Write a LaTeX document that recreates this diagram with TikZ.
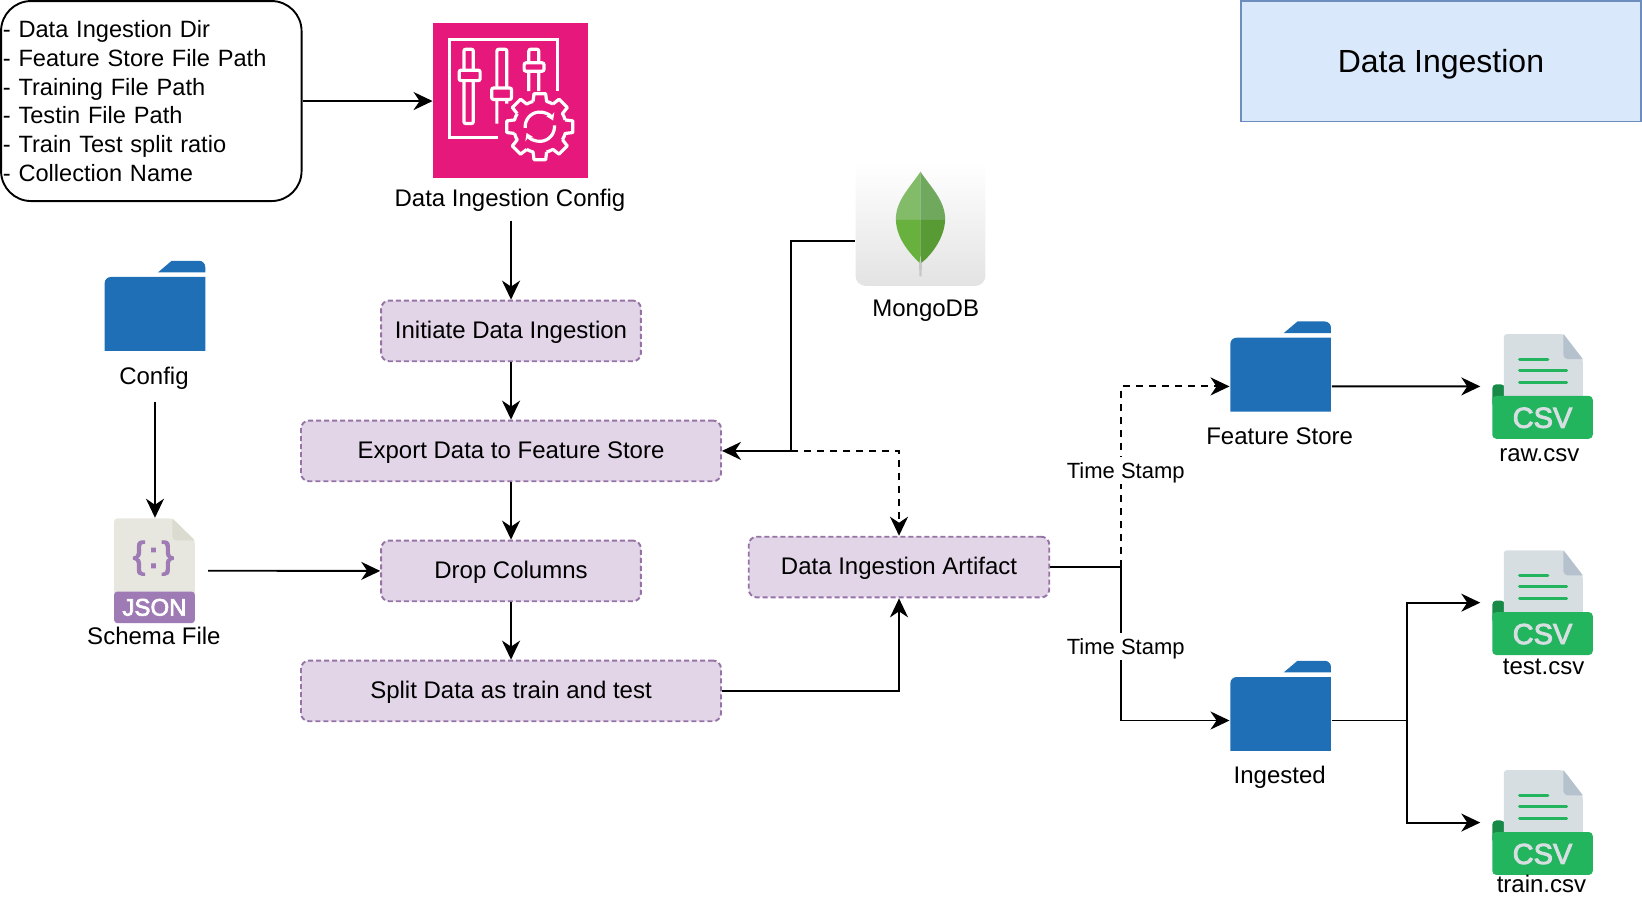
\documentclass[tikz,border=0pt]{standalone}
\usepackage{fontspec}
\setmainfont{Liberation Sans}
\newfontfamily\iconfont[FakeBold=3]{Liberation Sans}
\usetikzlibrary{arrows.meta}

\definecolor{boxfill}{HTML}{E1D5E7}
\definecolor{boxline}{HTML}{9673A6}
\definecolor{titlefill}{HTML}{DAE8FC}
\definecolor{titleline}{HTML}{6C8EBF}
\definecolor{folderblue}{HTML}{1F6FB7}
\definecolor{configpink}{HTML}{E7187B}
\definecolor{csvpaper}{HTML}{D7DEE2}
\definecolor{csvfold}{HTML}{B5C1CC}
\definecolor{csvgreen}{HTML}{22B55E}
\definecolor{csvdark}{HTML}{178A48}
\definecolor{jsonpaper}{HTML}{E8E7DF}
\definecolor{jsonfold}{HTML}{DBDBCF}
\definecolor{jsonpurple}{HTML}{9E7BB5}
\definecolor{leafa}{HTML}{82BC68}
\definecolor{leafb}{HTML}{70A85E}
\definecolor{leafc}{HTML}{69B13F}
\definecolor{leafd}{HTML}{589A34}

\tikzset{
  foldericon/.pic={
    \begin{scope}[shift={(-48,-43)}]
      \fill[folderblue] (51,11) -- (64,0) -- (90,0) to[out=0, in=90] (96,6) -- (96,11) -- cycle;
      \fill[folderblue] (0,86) -- (0,21) to[out=90, in=180] (6,15.5) -- (96,15.5) -- (96,86) -- cycle;
    \end{scope}
  },
  csvicon/.pic={
    \begin{scope}[shift={(-48,-50)}]
      \fill[csvdark, rounded corners=4] (0,70) -- (0,48) -- (12,48) -- (12,70) -- cycle;
      \fill[csvpaper, rounded corners=3] (11,65) -- (11,0) -- (68,0) -- (86.5,24) -- (86.5,65) -- cycle;
      \fill[csvfold] (68,0) -- (86.5,24) -- (72,24) to[out=180, in=-90] (68,20) -- cycle;
      \fill[csvgreen, rounded corners=4] (0,59) -- (96,59) -- (96,100) -- (0,100) -- cycle;
      \draw[csvgreen, line width=3pt, line cap=round] (26,24) -- (53,24);
      \draw[csvgreen, line width=3pt, line cap=round] (26,35) -- (71,35);
      \draw[csvgreen, line width=3pt, line cap=round] (26,46) -- (71,46);
      \node[text=csvpaper, font=\iconfont\fontsize{29}{30}\selectfont] (tag) at (48,80) {CSV};
    \end{scope}
  },
  jsonicon/.pic={
    \begin{scope}[shift={(-38.5,-50)}]
      \fill[jsonpaper, rounded corners=3] (0,75) -- (0,0) -- (55.5,0) -- (77,21) -- (77,75) -- cycle;
      \fill[jsonfold] (55.5,0) -- (77,21) -- (59,21) to[out=180, in=-90] (55.5,17) -- cycle;
      \fill[jsonpurple, rounded corners=3] (0,70) -- (77,70) -- (77,100) -- (0,100) -- cycle;
      \node[text=jsonpurple, font=\iconfont\fontsize{37}{39}\selectfont] (braces) at (37.5,38) {\{\kern3pt:\kern3pt\}};
      \node[text=white, font=\iconfont\fontsize{24}{26}\selectfont] (tag) at (38.5,85) {JSON};
    \end{scope}
  },
  tuneicon/.pic={
    \begin{scope}[shift={(-74.5,-74.5)}, white, line width=3.2pt]
      \fill[configpink] (0,0) rectangle (148,148);
      \draw (118.5,65) -- (118.5,16) -- (16,16) -- (16,109) -- (62,109);
      % the three sliders
      \draw[rounded corners=2pt] (29.5,25) rectangle (38.5,96);
      \draw[fill=configpink, rounded corners=2pt] (25,45) rectangle (45,55);
      \draw[rounded corners=2pt] (61,62) -- (61,25) -- (70.5,25) -- (70.5,62) (61,73) -- (61,96) (70.5,73) -- (70.5,77);
      \draw[fill=configpink, rounded corners=2pt] (56,62) rectangle (75,73);
      \draw[rounded corners=2pt] (91.5,38) -- (91.5,25) -- (101,25) -- (101,38) (91.5,46) -- (91.5,65) (101,46) -- (101,65);
      \draw[fill=configpink, rounded corners=2pt] (87,38) rectangle (106,46);
      % the gear
      \fill[configpink, shift={(102,99)}] (0,0) circle[radius=27];
      \foreach \a in {0,45,...,315}
        \draw[shift={(102,99)}, line join=round] (\a-15:25) -- (\a-10:32) -- (\a+10:32) -- (\a+15:25) arc[start angle=\a+15, end angle=\a+30, radius=25];
      \draw[shift={(102,99)}, -{Stealth[length=7pt, width=9pt]}] (175:14) arc[start angle=175, end angle=335, radius=14];
      \draw[shift={(102,99)}, -{Stealth[length=7pt, width=9pt]}] (355:14) arc[start angle=355, end angle=515, radius=14];
    \end{scope}
  },
  leaficon/.pic={
    \shade[top color=white, bottom color=black!11, rounded corners=10] (-62,-59) rectangle (62,59);
    \fill[black!22] (-1.5,33) -- (1.5,33) -- (1,50) -- (-1,50) -- cycle;
    \fill[leafa] (0,-50) .. controls (-10,-35) and (-24,-22) .. (-23.5,-4) -- (0,-4) -- cycle;
    \fill[leafb] (0,-50) .. controls (10,-35) and (24,-22) .. (23.5,-4) -- (0,-4) -- cycle;
    \fill[leafc] (-23.5,-4) .. controls (-23,15) and (-8,30) .. (-1,37) -- (0,30) -- (0,-4) -- cycle;
    \fill[leafd] (23.5,-4) .. controls (23,12) and (12,28) .. (1,37) -- (0,30) -- (0,-4) -- cycle;
  }
}

\begin{document}
\begin{tikzpicture}[x=1.0472pt, y=-1.0472pt, line width=1.9pt,
    >={Stealth[length=19pt, width=18pt, inset=6pt]},
    every node/.style={font=\fontsize{24}{28.8}\selectfont},
    main/.style = {draw=boxline, fill=boxfill, dashed, dash pattern=on 5pt off 3pt, rounded corners=8pt, minimum height=60.7pt, text height=19.5pt, text depth=4.5pt},
    lbl/.style = {text height=21pt, text depth=4pt},
    stamp/.style = {lbl, fill=white, inner xsep=0pt, inner ysep=1pt, font=\fontsize{22}{26}\selectfont},
    folderbox/.style = {minimum width=100.5pt, minimum height=90pt, inner sep=0pt},
    csvbox/.style = {minimum width=100.5pt, minimum height=104.7pt, inner sep=0pt, outer sep=12pt}]
  \useasboundingbox (0,0) rectangle (1568,863.25);

  % header and settings
  \node[draw=titleline, fill=titlefill, minimum width=400pt, minimum height=120.5pt, text height=27pt, text depth=5.5pt] (title) at (1376,58.5) {\fontsize{32}{38}\selectfont Data Ingestion};
  \node[draw, rounded corners=30pt, minimum width=300.5pt, minimum height=200pt, text width=297pt, inner xsep=1.5pt, align=left, font=\fontsize{23.6}{28.8}\selectfont] (settings) at (144.5,96.5)
    {- Data Ingestion Dir\\- Feature Store File Path\\- Training File Path\\- Testin File Path\\- Train Test split ratio\\- Collection Name};

  \node[minimum size=155pt, inner sep=0pt] (tune) at (488,96.5) {};
  \pic at (tune) {tuneicon};
  \node[lbl] (tunelbl) at (487,189) {Data Ingestion Config};

  % main column
  \node[main, minimum width=259.7pt] (initiate) at (488,316) {Initiate Data Ingestion};
  \node[main, minimum width=420pt, node distance=120pt] (export) [below of=initiate] {Export Data to Feature Store};
  \node[main, minimum width=259.7pt, node distance=120pt] (drop) [below of=export] {Drop Columns};
  \node[main, minimum width=420pt, node distance=120pt] (split) [below of=drop] {Split Data as train and test};
  \node[main, minimum width=300.5pt] (artifact) at (858.5,541.5) {Data Ingestion Artifact};

  % config folder and schema
  \node[folderbox] (configdir) at (148,292) {};
  \pic at (configdir) {foldericon};
  \node[lbl] (configlbl) at (147,359) {Config};
  \node[minimum width=80.6pt, minimum height=104pt, inner sep=0pt] (schema) at (148,545) {};
  \pic at ([xshift=-0.5pt]schema.center) {jsonicon};
  \node[lbl] (schemalbl) at (147,607) {Schema File};

  % source
  \node[minimum width=130pt, minimum height=123.5pt, inner sep=0pt] (mongo) at (879,214) {};
  \pic at (mongo) {leaficon};
  \node[lbl] (mongolbl) at (884,294) {MongoDB};
  \coordinate (mongojoin) at ([xshift=69.1pt]export.east);

  % output folders and files
  \node[folderbox] (featuredir) at (1223,350) {};
  \pic at (featuredir) {foldericon};
  \node[lbl] (featurelbl) at (1222,416) {Feature Store};
  \node[folderbox] (ingesteddir) at (1223,674) {};
  \pic at (ingesteddir) {foldericon};
  \node[lbl] (ingestedlbl) at (1222,740) {Ingested};

  \node[csvbox] (rawcsv) at (1473,369) {};
  \pic at (rawcsv) {csvicon};
  \node[lbl] (rawlbl) at (1470,433) {raw.csv};
  \node[csvbox] (testcsv) at (1473,575.5) {};
  \pic at (testcsv) {csvicon};
  \node[lbl] (testlbl) at (1474,636) {test.csv};
  \node[csvbox] (traincsv) at (1473,785.5) {};
  \pic at (traincsv) {csvicon};
  \node[lbl] (trainlbl) at (1472,844) {train.csv};

  \coordinate (stampjoin) at ([xshift=71.2pt]artifact.east);
  \coordinate (ingestedjoin) at ([xshift=75.4pt, yshift=-14.7pt]ingesteddir.east);

  \draw[->] (settings.east) -- (tune.west);
  \draw[->] ([yshift=-6pt]tunelbl.south -| initiate.north) -- (initiate.north);
  \draw[->] (initiate) -- (export);
  \draw[->] (export) -- (drop);
  \draw[->] (drop) -- (split);
  \draw[->] ([yshift=-9pt]configlbl.south -| schema.north) -- (schema.north);
  \draw[->] ([xshift=12pt]schema.east) -- (drop.west);
  \draw[->] ([yshift=-17pt]mongo.west) -| (mongojoin) -- (export.east);
  \draw[->, dash pattern=on 7pt off 6pt] (mongojoin) -| (artifact.north);
  \draw[->] (split.east) -| (artifact.south);
  \draw (artifact.east) -- (stampjoin);
  \draw[->, dash pattern=on 7pt off 6pt] (stampjoin) |- ([yshift=-19.9pt]featuredir.west);
  \draw[->] (stampjoin) |- ([yshift=-14.7pt]ingesteddir.west);
  \draw[->] ([yshift=-19.9pt]featuredir.east) -- (rawcsv.west);
  \draw ([yshift=-14.7pt]ingesteddir.east) -- (ingestedjoin);
  \draw[->] (ingestedjoin) |- (testcsv.west);
  \draw[->] (ingestedjoin) |- (traincsv.west);

  \node[stamp] (stampa) at (1075,449) {Time Stamp};
  \node[stamp] (stampb) at (1075,617) {Time Stamp};
\end{tikzpicture}
\end{document}
